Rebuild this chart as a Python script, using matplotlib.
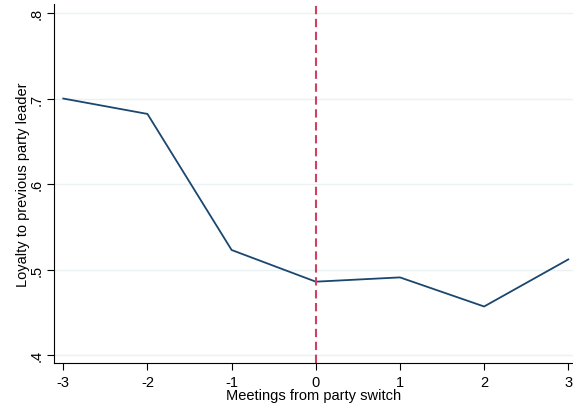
import matplotlib
matplotlib.use("Agg")
import matplotlib.pyplot as plt

plt.rcParams['font.family'] = ['Liberation Sans', 'DejaVu Sans']

meetings = [-3, -2, -1, 0, 1, 2, 3]
loyalty = [0.700, 0.682, 0.523, 0.486, 0.491, 0.457, 0.512]
yticks = [0.4, 0.5, 0.6, 0.7, 0.8]
ytick_labels = ['.4', '.5', '.6', '.7', '.8']

fig = plt.figure(figsize=(5.73, 4.14), dpi=100)
ax = fig.add_axes([0.0937, 0.12, 0.9063, 0.868])

for y in yticks:
    ax.axhline(y, color='#eaf2f3', lw=1, zorder=0)

ax.plot(meetings, loyalty, color='#1a476f', lw=1.3)
ax.axvline(0, color='#d0405f', lw=1.5, ls=(0, (4, 2.2)))

ax.set_xlim(-3.114, 3.056)
ax.set_ylim(0.3906, 0.8105)
ax.set_xticks(meetings)
ax.set_xticklabels([str(m) for m in meetings])
ax.set_yticks(yticks)
ax.set_yticklabels(ytick_labels, rotation=90, va='center')

ax.spines['top'].set_visible(False)
ax.spines['right'].set_visible(False)
for s in ['left', 'bottom']:
    ax.spines[s].set_color('black')
    ax.spines[s].set_linewidth(0.8)

ax.tick_params(axis='both', direction='out', length=5, width=0.8, labelsize=10.5, colors='black')
ax.tick_params(axis='y', pad=2)
ax.set_xlabel('Meetings from party switch', fontsize=10.5, labelpad=-1)
ax.set_ylabel('Loyalty to previous party leader', fontsize=10.5, labelpad=0)

fig.savefig('out.png', dpi=100)
